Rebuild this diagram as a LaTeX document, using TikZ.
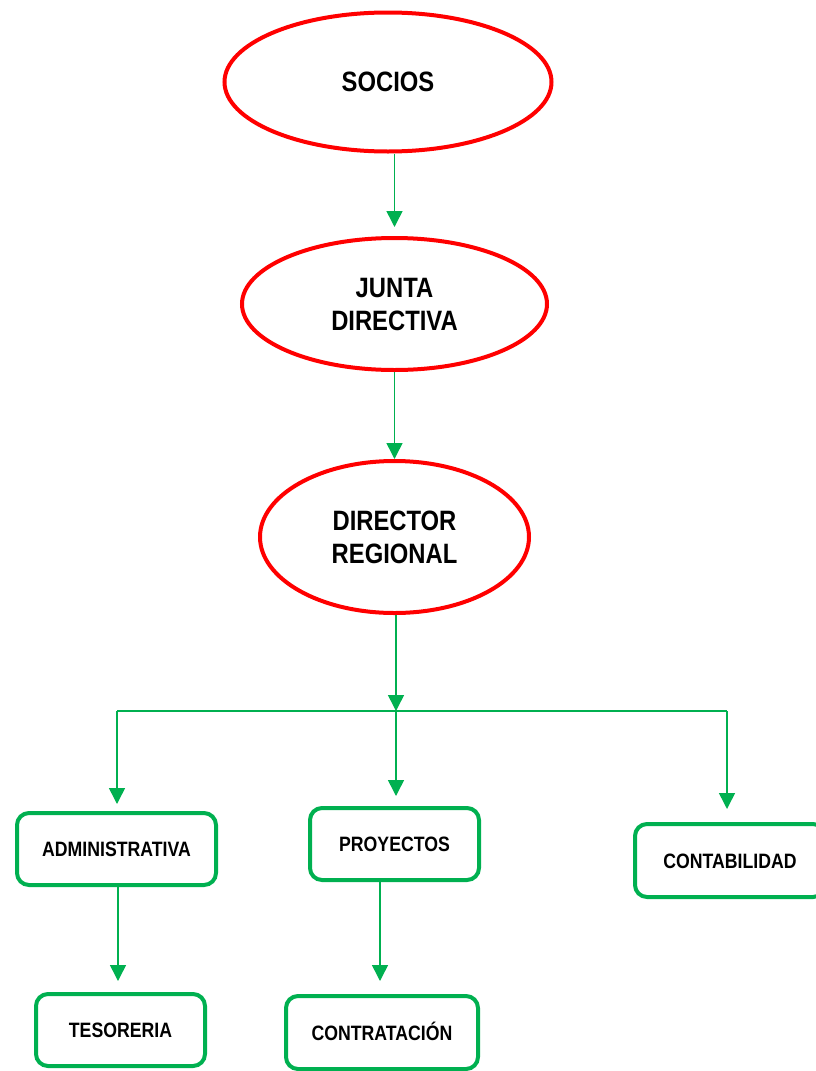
\documentclass[tikz,border=0pt]{standalone}
\usepackage{fontspec}
\setmainfont{Liberation Sans}[FakeStretch=0.85]
\usetikzlibrary{shapes.geometric,arrows.meta}
\definecolor{ored}{HTML}{FF0000}
\definecolor{ogreen}{HTML}{00B050}
\begin{document}
\begin{tikzpicture}[x=1pt,y=-1pt,
  oval/.style={ellipse, draw=ored, line width=4pt, inner sep=0pt, align=center,
    font=\bfseries\fontsize{28}{33}\selectfont},
  unit/.style={draw=ogreen, line width=4pt, rounded corners=12pt, inner sep=0pt,
    text height=15pt, text depth=0pt, font=\bfseries\fontsize{20.8}{24}\selectfont},
  conn/.style={draw=ogreen, line width=1.5pt},
  arr/.style={conn, -{Triangle[width=16pt,length=16pt]}}]
\useasboundingbox (0,0) rectangle (816,1071);
% ellipses
\node[oval, minimum width=327pt, minimum height=139pt] (socios) at (388,82) {SOCIOS};
\node[oval, minimum width=305pt, minimum height=132pt] (junta) at (394.5,304) {JUNTA\\DIRECTIVA};
\node[oval, minimum width=269pt, minimum height=152pt] (director) at (394.5,537) {DIRECTOR\\REGIONAL};
% boxes
\node[unit, minimum width=199pt, minimum height=72pt] (admin) at (116.5,849) {ADMINISTRATIVA};
\node[unit, minimum width=169pt, minimum height=72pt] (proy) at (394.5,844) {PROYECTOS};
\node[unit, minimum width=190pt, minimum height=73pt] (conta) at (730,860.5) {CONTABILIDAD};
\node[unit, minimum width=169pt, minimum height=72pt] (teso) at (120.5,1030) {TESORERIA};
\node[unit, minimum width=192pt, minimum height=73pt] (contr) at (382,1032.5) {CONTRATACIÓN};
% branch coordinates
\coordinate (hub) at (396,711);
\coordinate (hl) at (117,711);
\coordinate (hr) at (727,711);
% connectors
\draw[arr, shorten >=9pt] (junta.north |- socios.south) -- (junta.north);
\draw[arr] (junta.south) -- (director.north);
\draw[arr] (director.south -| hub) -- (hub);
\draw[conn] (hl) -- (hr);
\draw[arr, shorten >=7pt] (hl) -- (admin.north -| hl);
\draw[arr, shorten >=10pt] (hub) -- (proy.north -| hub);
\draw[arr, shorten >=13pt] (hr) -- (conta.north -| hr);
\draw[arr, shorten >=11pt] (admin.south -| 118,0) -- (teso.north -| 118,0);
\draw[arr, shorten >=13pt] (proy.south -| 380,0) -- (contr.north -| 380,0);
\end{tikzpicture}
\end{document}
